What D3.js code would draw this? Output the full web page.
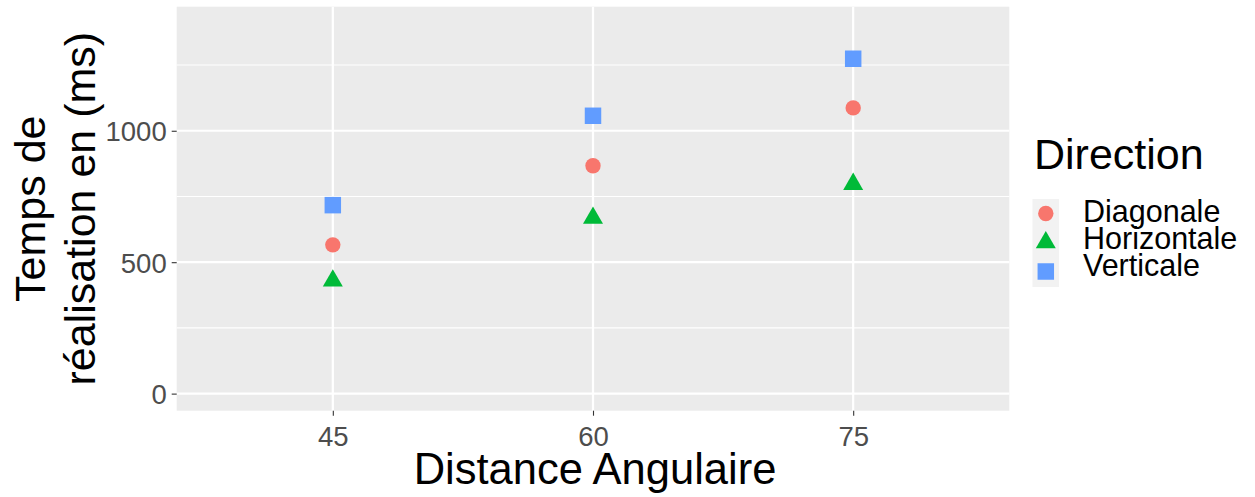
<!DOCTYPE html>
<html>
<head>
<meta charset="utf-8">
<script src="https://cdn.jsdelivr.net/npm/d3@7"></script>
<style>
  body { margin: 0; background: #fff; }
  text { font-family: "Liberation Sans", Arial, sans-serif; }
</style>
</head>
<body>
<div id="chart"></div>
<script>
// values
var distances = ["45", "60", "75"];
var directions = ["Diagonale", "Horizontale", "Verticale"];
var diagonale = [566, 867, 1087];
var horizontale = [429, 668, 797];
var verticale = [717, 1057, 1274];
var yTicks = [0, 500, 1000];
var yMinor = [250, 750, 1250];

var W = 1255, H = 497;
var panel = {left: 176.7, right: 1009.3, top: 6.7, bottom: 410.7};

var svg = d3.select("#chart").append("svg")
    .attr("width", W)
    .attr("height", H);

var x = d3.scalePoint()
    .domain(distances)
    .range([panel.left, panel.right])
    .padding(0.6);

var y = d3.scaleLinear()
    .domain([-65, 1472])
    .range([panel.bottom, panel.top]);

var color = d3.scaleOrdinal()
    .domain(directions)
    .range(["#F8766D", "#00BA38", "#619CFF"]);

var shape = d3.scaleOrdinal()
    .domain(directions)
    .range([d3.symbolCircle, d3.symbolTriangle, d3.symbolSquare]);

var sizes = {Diagonale: 186, Horizontale: 173, Verticale: 272};

// panel background
svg.append("rect")
    .attr("x", panel.left)
    .attr("y", panel.top)
    .attr("width", panel.right - panel.left)
    .attr("height", panel.bottom - panel.top)
    .style("fill", "#EBEBEB");

// grid
svg.selectAll(".minor")
    .data(yMinor)
    .enter().append("line")
    .attr("x1", panel.left).attr("x2", panel.right)
    .attr("y1", d => y(d)).attr("y2", d => y(d))
    .style("stroke", "#fff").style("stroke-width", 1.1);

svg.selectAll(".major")
    .data(yTicks)
    .enter().append("line")
    .attr("x1", panel.left).attr("x2", panel.right)
    .attr("y1", d => y(d)).attr("y2", d => y(d))
    .style("stroke", "#fff").style("stroke-width", 2.2);

svg.selectAll(".vmajor")
    .data(distances)
    .enter().append("line")
    .attr("x1", d => x(d)).attr("x2", d => x(d))
    .attr("y1", panel.top).attr("y2", panel.bottom)
    .style("stroke", "#fff").style("stroke-width", 2.2);

// axes
var yAxis = d3.axisLeft(y).tickValues(yTicks).tickFormat(d3.format("d")).tickSize(5).tickPadding(5);
var gy = svg.append("g")
    .attr("transform", "translate(" + panel.left + ",0)")
    .call(yAxis);

var xAxis = d3.axisBottom(x).tickSize(5).tickPadding(5);
var gx = svg.append("g")
    .attr("transform", "translate(0," + panel.bottom + ")")
    .call(xAxis);

[gx, gy].forEach(g => {
    g.select(".domain").remove();
    g.selectAll(".tick line").style("stroke", "#333").style("stroke-width", 1.1);
    g.selectAll(".tick text")
        .style("font-family", "'Liberation Sans', Arial, sans-serif")
        .style("font-size", "27.5px")
        .style("fill", "#4D4D4D");
});
gy.selectAll(".tick text").attr("dy", "0.36em");
gx.selectAll(".tick text").attr("dy", "0.92em");

// points
var series = [
    {name: "Diagonale", values: diagonale},
    {name: "Horizontale", values: horizontale},
    {name: "Verticale", values: verticale}
];

series.forEach(s => {
    svg.selectAll(".pt-" + s.name)
        .data(s.values)
        .enter().append("path")
        .attr("transform", (d, i) => "translate(" + x(distances[i]) + "," + y(d) + ")")
        .attr("d", d3.symbol().type(shape(s.name)).size(sizes[s.name]))
        .style("fill", color(s.name));
});

// axis titles
svg.append("text")
    .attr("x", (panel.left + panel.right) / 2 + 2)
    .attr("y", 484)
    .attr("text-anchor", "middle")
    .style("font-size", "43.5px")
    .style("fill", "#000")
    .text("Distance Angulaire");

var yt = svg.append("text")
    .attr("transform", "translate(0," + ((panel.top + panel.bottom) / 2) + ") rotate(-90)")
    .attr("text-anchor", "middle")
    .style("font-size", "43px")
    .style("fill", "#000");
yt.append("tspan").attr("x", 0).attr("y", 45).text("Temps de");
yt.append("tspan").attr("x", 0).attr("y", 95).text("réalisation en (ms)");

// legend
var legend = svg.append("g").attr("class", "legendbox");

legend.append("text")
    .attr("x", 1034)
    .attr("y", 169)
    .style("font-size", "43px")
    .style("fill", "#000")
    .text("Direction");

var keyY = [213.5, 242.5, 271.5];
var labelY = [222, 249, 276];

legend.append("rect")
    .attr("x", 1032.5)
    .attr("y", 199)
    .attr("width", 26.5)
    .attr("height", 88)
    .style("fill", "#F2F2F2");

var items = legend.selectAll(".legend")
    .data(directions)
    .enter().append("g")
    .attr("class", "legend");

items.append("path")
    .attr("transform", (d, i) => "translate(1045.8," + keyY[i] + ")")
    .attr("d", d => d3.symbol().type(shape(d)).size(sizes[d])())
    .style("fill", d => color(d));

items.append("text")
    .attr("x", 1083)
    .attr("y", (d, i) => labelY[i])
    .style("font-size", "30.5px")
    .style("fill", "#000")
    .text(d => d);
</script>
</body>
</html>
